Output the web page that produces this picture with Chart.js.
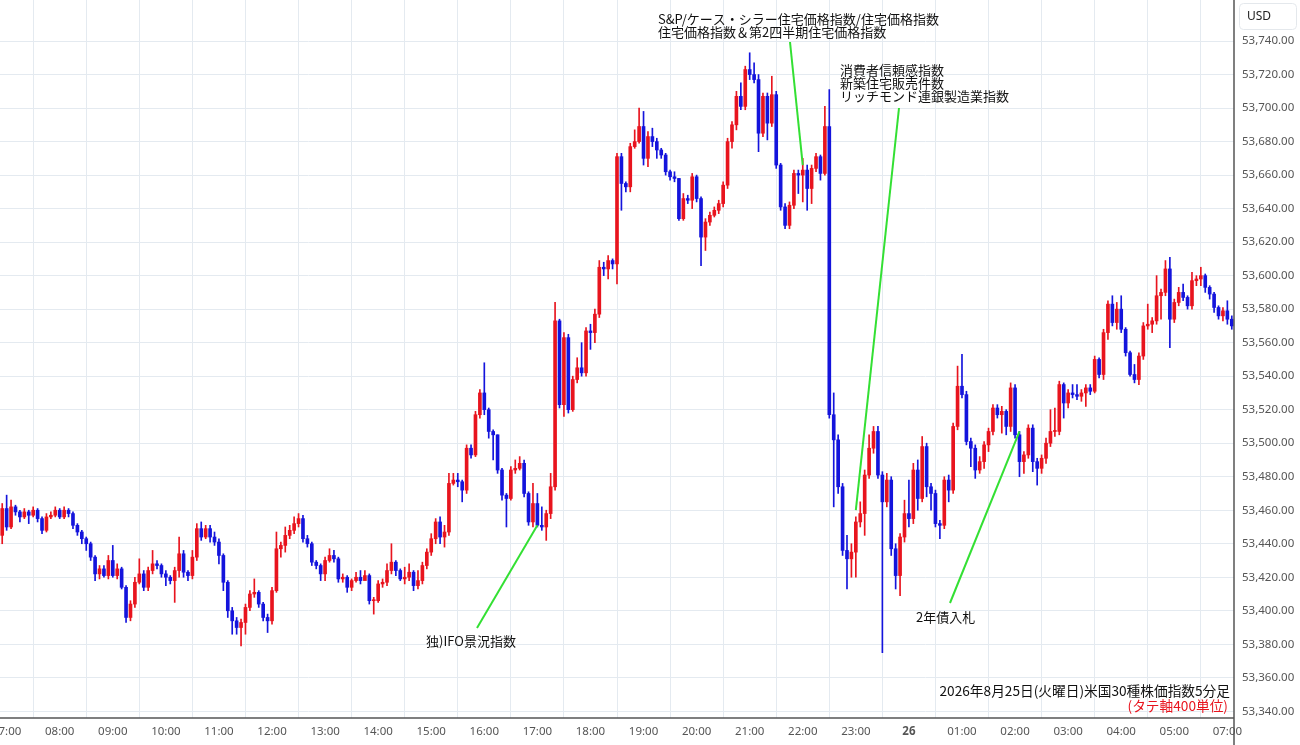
<!DOCTYPE html>
<html>
<head>
<meta charset="utf-8">
<script src="https://cdn.jsdelivr.net/npm/chart.js@4.4.1/dist/chart.umd.min.js"></script>
<style>
  html, body { margin: 0; padding: 0; background: #fff; }
  #wrap { width: 1300px; height: 745px; }
</style>
</head>
<body>
<div id="wrap"><canvas id="myChart" width="1300" height="745"></canvas></div>
<script>
// 5-minute candles, 06:55 -> 07:05 next day (06:00-06:55 closed)
const firstOpen = 53445;
const closes = [
  53461,53450,53462,53459,53456,53459,53457,53460,53455,53448,53456,53457,53460,53456,53460,53458,53451,53447,53443,53440,
  53432,53422,53425,53421,53430,53421,53425,53414,53396,53404,53417,53422,53414,53424,53428,53427,53422,53420,53418,53424,
  53434,53423,53421,53432,53449,53444,53449,53444,53441,
  53433,53417,53400,53394,53390,53393,53402,53410,53411,53404,53396,53394,53412,53437,53439,53445,53448,53452,53455,53443,
  53440,53429,53427,53422,53430,53433,53431,53419,53420,53414,53418,53420,53418,53421,53406,53406,53416,53417,53424,53429,
  53424,53419,53420,53423,53415,53418,53427,53435,
  53443,53453,53444,53447,53476,53478,53477,53472,53497,53493,53517,53530,53520,53507,53505,53484,53469,53467,53484,53485,
  53488,53470,53453,53464,53451,53450,53458,53474,53573,53523,53563,53520,53538,53545,53542,53567,53566,53577,53605,
  53604,53609,53607,53671,53655,53653,53677,53680,53689,53670,53683,53680,53675,53672,53662,53659,53658,53634,53646,53645,
  53659,53646,53623,53632,53636,53639,53643,53654,53680,53690,53707,53701,53723,53720,53717,53685,53707,53691,53708,53666,
  53641,53630,53642,53661,53660,53663,53652,53664,53671,53661,53689,
  53517,53502,53474,53436,53431,53435,53453,53458,53481,53497,53507,53481,53465,53478,53437,53421,53444,53458,53455,53484,
  53467,53498,53474,53470,53452,53451,53478,53472,53510,53534,53529,53501,53497,53484,53489,53499,53507,53521,53517,53519,
  53510,53533,53505,53489,53493,53509,53489,53485,
  53491,53500,53507,53507,53535,53524,53530,53529,53528,53530,53533,53531,53550,53541,53566,53583,53572,53580,53568,53554,
  53541,53538,53552,53570,53571,53573,53588,53590,53604,53574,53584,53590,53587,53582,53597,53598,53600,53593,53589,53581,
  53576,53579,53574,53570
];
const highs = [
  53464,53469,53466,53463,53460,53461,53460,53462,53461,53456,53458,53459,53462,53461,53462,53461,53459,53452,53448,53444,
  53441,53433,53427,53427,53433,53439,53428,53426,53415,53406,53420,53431,53424,53426,53436,53430,53428,53424,53421,53426,
  53444,53436,53424,53436,53452,53453,53451,53451,53447,
  53443,53434,53418,53402,53396,53395,53404,53412,53419,53412,53405,53398,53414,53447,53441,53450,53451,53456,53458,53457,
  53445,53441,53430,53428,53432,53437,53436,53432,53422,53421,53419,53423,53424,53424,53422,53408,53418,53419,53428,53440,
  53430,53425,53426,53428,53424,53424,53429,53437,
  53446,53455,53456,53451,53482,53482,53482,53478,53499,53499,53519,53532,53548,53521,53508,53505,53485,53470,53486,53490,
  53492,53490,53471,53476,53470,53462,53460,53482,53584,53574,53566,53565,53540,53551,53560,53569,53571,53580,53609,
  53608,53612,53610,53673,53673,53656,53679,53687,53700,53698,53686,53688,53682,53676,53673,53663,53662,53658,53649,53648,
  53661,53660,53647,53634,53638,53641,53645,53656,53682,53692,53710,53715,53725,53733,53727,53720,53709,53709,53719,53710,
  53667,53643,53644,53663,53663,53670,53666,53666,53673,53672,53701,
  53711,53530,53505,53476,53445,53440,53456,53465,53484,53505,53510,53510,53483,53482,53480,53440,53446,53466,53478,53488,
  53490,53504,53500,53476,53472,53454,53480,53481,53512,53546,53553,53531,53503,53499,53492,53501,53509,53523,53523,53522,
  53520,53536,53535,53507,53495,53511,53511,53491,
  53493,53503,53520,53521,53537,53536,53532,53535,53535,53532,53535,53535,53552,53551,53568,53585,53588,53584,53588,53569,
  53555,53547,53554,53572,53583,53575,53600,53592,53609,53611,53586,53593,53595,53588,53602,53600,53605,53601,53594,53590,
  53582,53581,53585,53576
];
const lows = [
  53440,53448,53449,53457,53453,53455,53452,53456,53453,53446,53447,53455,53456,53455,53455,53456,53449,53445,53440,53436,
  53430,53418,53419,53420,53419,53420,53419,53413,53393,53394,53402,53416,53412,53412,53422,53425,53420,53415,53416,53405,
  53420,53420,53418,53419,53430,53442,53443,53441,53439,
  53428,53412,53396,53386,53386,53379,53386,53400,53408,53402,53394,53387,53392,53411,53432,53435,53443,53446,53450,53441,
  53438,53427,53425,53418,53418,53429,53429,53417,53417,53411,53412,53417,53416,53419,53404,53398,53405,53414,53415,53422,
  53421,53418,53416,53418,53412,53413,53416,53425,
  53433,53440,53440,53438,53445,53475,53474,53465,53470,53491,53492,53515,53517,53503,53490,53482,53466,53450,53466,53482,
  53484,53468,53451,53450,53450,53448,53442,53455,53472,53521,53516,53518,53519,53536,53540,53540,53556,53560,53575,
  53600,53598,53604,53595,53639,53650,53650,53676,53679,53666,53665,53677,53670,53670,53660,53657,53656,53633,53633,53643,
  53640,53644,53606,53615,53630,53635,53637,53641,53652,53676,53687,53699,53699,53717,53715,53674,53683,53681,53689,53664,
  53639,53628,53628,53640,53649,53644,53639,53643,53662,53657,53660,
  53515,53462,53470,53433,53413,53420,53420,53450,53445,53479,53494,53479,53375,53462,53433,53413,53409,53441,53450,53452,
  53460,53465,53468,53460,53450,53443,53449,53465,53470,53508,53527,53499,53486,53479,53482,53485,53495,53505,53515,53506,
  53505,53507,53503,53480,53482,53491,53483,53475,
  53482,53488,53498,53504,53505,53515,53521,53527,53526,53525,53522,53529,53530,53539,53538,53562,53570,53568,53566,53552,
  53540,53536,53535,53550,53568,53566,53571,53574,53588,53557,53572,53582,53585,53580,53580,53594,53594,53590,53586,53578,
  53574,53573,53571,53568
];

// time labels (one per candle)
const labels = [];
{
  let day = 25, mins = 6 * 60 + 55;
  while (labels.length < closes.length) {
    const h = Math.floor(mins / 60), m = mins % 60;
    if (!(day === 26 && h === 6)) {
      labels.push(String(h).padStart(2, '0') + ':' + String(m).padStart(2, '0'));
    }
    mins += 5;
    if (mins >= 24 * 60) { mins -= 24 * 60; day = 26; }
  }
}

const opens = closes.map((c, i) => (i === 0 ? firstOpen : closes[i - 1]));
const UP = '#e8141e';
const DOWN = '#1414dc';
const candleColors = closes.map((c, i) => (c >= opens[i] ? UP : DOWN));

// event notes
const notes = [
  { idx: 121, price: 53451, ex: 477, ey: 628, text: ['独)IFO景況指数'], tx: 426, ty: 641 },
  { idx: 181, price: 53666, ex: 790, ey: 42, text: ['S&P/ケース・シラー住宅価格指数/住宅価格指数', '住宅価格指数＆第2四半期住宅価格指数'], tx: 658, ty: 19 },
  { idx: 193, price: 53460, ex: 899, ey: 108, text: ['消費者信頼感指数', '新築住宅販売件数', 'リッチモンド連銀製造業指数'], tx: 840, ty: 70 },
  { idx: 230, price: 53507, ex: 950, ey: 603, text: ['2年債入札'], tx: 916, ty: 617 }
];

const JP = '"Noto Sans CJK JP", "Noto Sans", sans-serif';

const overlay = {
  id: 'overlay',
  afterDraw(chart) {
    const ctx = chart.ctx;
    const xs = chart.scales.x, ys = chart.scales.y;
    ctx.save();
    ctx.strokeStyle = '#33e033';
    ctx.lineWidth = 2;
    notes.forEach(n => {
      ctx.beginPath();
      ctx.moveTo(n.ex, n.ey);
      ctx.lineTo(xs.getPixelForValue(n.idx), ys.getPixelForValue(n.price));
      ctx.stroke();
    });
    ctx.fillStyle = '#111';
    ctx.font = '13px ' + JP;
    ctx.textBaseline = 'middle';
    ctx.textAlign = 'left';
    notes.forEach(n => {
      n.text.forEach((t, k) => ctx.fillText(t, n.tx, n.ty + k * 13));
    });
    ctx.textAlign = 'right';
    ctx.font = '13.7px ' + JP;
    ctx.fillText('2026年8月25日(火曜日)米国30種株価指数5分足', 1230, 691);
    ctx.fillStyle = '#e8141e';
    ctx.fillText('(タテ軸400単位)', 1228, 706);

    // USD box
    ctx.strokeStyle = '#e4e8ec';
    ctx.lineWidth = 1;
    ctx.beginPath();
    ctx.roundRect(1239.5, 3.5, 57, 26, 4);
    ctx.stroke();
    ctx.fillStyle = '#222';
    ctx.textAlign = 'left';
    ctx.font = '12px "Noto Sans", sans-serif';
    ctx.fillText('USD', 1247, 17);

    // axis frame
    ctx.strokeStyle = '#555';
    ctx.lineWidth = 1.5;
    ctx.beginPath();
    ctx.moveTo(chart.chartArea.right, 0);
    ctx.lineTo(chart.chartArea.right, 745);
    ctx.moveTo(0, chart.chartArea.bottom);
    ctx.lineTo(chart.chartArea.right, chart.chartArea.bottom);
    ctx.stroke();
    ctx.restore();
  }
};

new Chart(document.getElementById('myChart'), {
  type: 'bar',
  data: {
    labels: labels,
    datasets: [
      {
        label: 'wick',
        data: highs.map((h, i) => [lows[i], h]),
        backgroundColor: candleColors,
        barThickness: 1,
        grouped: false,
        order: 2
      },
      {
        label: 'body',
        data: closes.map((c, i) => [opens[i], c]),
        backgroundColor: candleColors,
        barThickness: 3,
        minBarLength: 1,
        grouped: false,
        order: 1
      }
    ]
  },
  options: {
    responsive: false,
    animation: false,
    devicePixelRatio: 1,
    layout: { padding: 0 },
    plugins: { legend: { display: false }, tooltip: { enabled: false } },
    scales: {
      x: {
        offset: true,
        border: { display: false },
        grid: { color: '#e4eaf0', drawTicks: false },
        afterFit(s) { s.height = 27; s.paddingLeft = 0; s.paddingRight = 0; },
        ticks: {
          autoSkip: false,
          maxRotation: 0,
          padding: 7,
          color: '#555',
          font: c => ({ family: '"Noto Sans", sans-serif', size: 11.5, weight: c.tick && c.tick.label === '26' ? 'bold' : 'normal' }),
          callback(v) {
            const l = this.getLabelForValue(v);
            if (!l.endsWith(':00')) return null;
            return l === '00:00' ? '26' : l;
          }
        }
      },
      y: {
        position: 'right',
        min: 53336,
        max: 53764.5,
        border: { display: false },
        grid: { color: '#e4eaf0', drawTicks: false },
        afterFit(s) { s.width = 66; s.paddingTop = 0; s.paddingBottom = 0; },
        afterBuildTicks(s) {
          const t = [];
          for (let v = 53340; v <= 53740; v += 20) t.push({ value: v });
          s.ticks = t;
        },
        ticks: {
          padding: 8,
          color: '#555',
          font: { family: '"Noto Sans", sans-serif', size: 11.5 },
          callback: v => v.toLocaleString('en-US', { minimumFractionDigits: 2, maximumFractionDigits: 2 })
        }
      }
    }
  },
  plugins: [overlay]
});
</script>
</body>
</html>
